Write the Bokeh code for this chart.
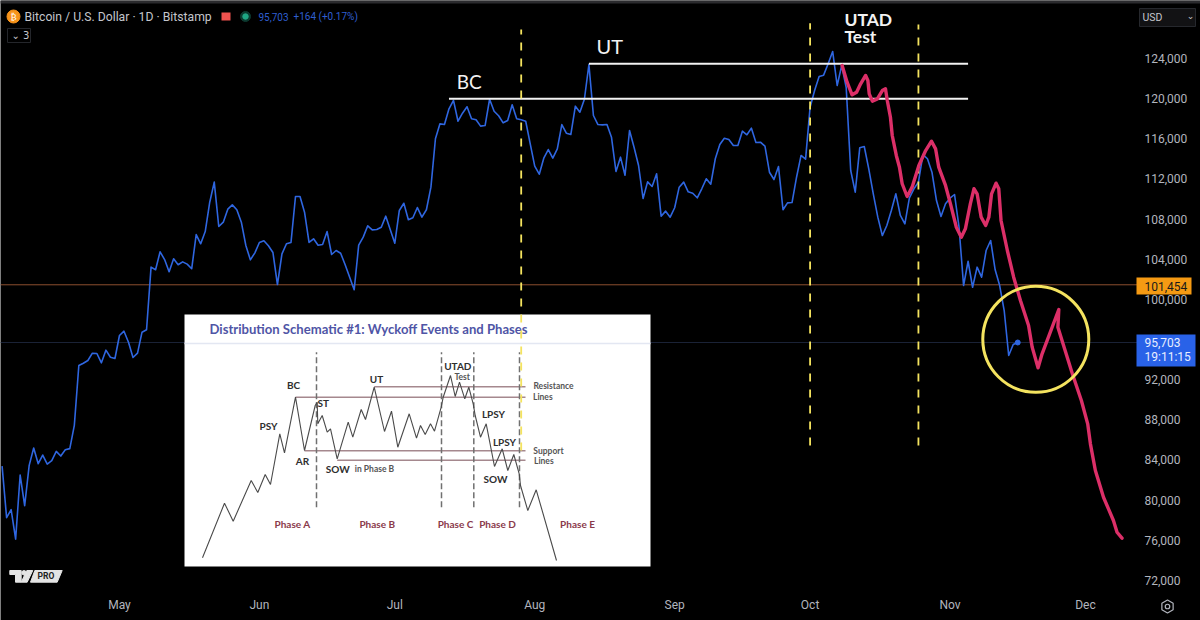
from datetime import datetime, timedelta, timezone

from bokeh.core.properties import value
from bokeh.embed import file_html
from bokeh.models import DatetimeAxis, DatetimeTickFormatter, FixedTicker, LinearAxis, NumeralTickFormatter, Range1d
from bokeh.plotting import figure
from bokeh.resources import INLINE

# daily closes, first one is 5 Apr
first_day = datetime(2025, 4, 5, tzinfo=timezone.utc)
close = [
    83390, 78250, 79050, 76120, 82500, 79450, 83460, 85190, 83630, 84490, 83590, 83930, 84860, 84390, 85010, 85130,
    87450, 93410, 93640, 93910, 94640, 94610, 93680, 94940, 94240, 94110, 96400, 96830, 95730, 94210, 94640, 96730,
    96970, 103210, 102950, 104740, 103970, 102750, 104040, 103450, 103740, 103510, 103050, 106460, 105540, 106760,
    109680, 111680, 107260, 107690, 108990, 109420, 108930, 107690, 105370, 103940, 104640, 105670, 105840, 105340,
    104670, 101480, 104540, 105540, 105670, 110250, 110250, 108690, 105670, 106040, 105400, 105470, 106760, 104470,
    104870, 104600, 103450, 102210, 100960, 105400, 106200, 107330, 106930, 106960, 107190, 108290, 106930, 105600,
    108860, 109580, 107930, 108130, 109150, 108190, 108930, 111180, 116000, 117490, 117420, 118990, 119820, 117750,
    118550, 119190, 117990, 117890, 117260, 117320, 119940, 118750, 118290, 117590, 117820, 119390, 117990, 117890,
    117750, 115500, 113270, 112470, 114070, 114930, 114070, 115000, 117420, 116560, 116430, 119250, 118650, 119940,
    123400, 118320, 117420, 117390, 117420, 116160, 112740, 114170, 112370, 116830, 115160, 113340, 110050, 111710,
    111250, 112510, 108290, 108790, 108190, 109130, 111180, 111680, 110720, 110580, 110120, 111020, 112010, 111480,
    114010, 115430, 116060, 115930, 115330, 115330, 116760, 116400, 117060, 115630, 115660, 115260, 112670, 111940,
    113240, 108930, 109620, 109650, 112170, 114340, 113970, 119150, 120810, 122210, 122340, 123470, 124700, 121310,
    123300, 121110, 112840, 110680, 115100, 115230, 113010, 110520, 108190, 106360, 107360, 108860, 110520, 108360,
    107530, 110120, 111020, 111680, 114430, 114010, 112670, 109850, 108260, 109520, 110080, 110450, 107190, 101380,
    103800, 101210, 103210, 102210, 104870, 105870, 102950, 101380, 98890, 94410, 95500, 95703,
]

# hand drawn projection, days counted from first_day
drawn_day = [
    186.1, 187.2, 188.3, 189.3, 190.2, 191.3, 191.8, 192.1, 192.8, 193.9, 195, 195.7, 196.1, 196.8, 197.2, 198.1,
    198.8, 199.4, 200.5, 201.6, 203.1, 204.6, 205.9, 206.8, 207.5, 209, 210.1, 211.4, 212.5, 213.4, 214.5, 215.3,
    216, 216.9, 217.9, 218.6, 219.2, 220.2, 220.8, 221.3, 222.7, 224.1, 225.6, 227.4, 228.2, 229.5, 230.4, 234.1,
    233.9, 237.1, 239.1, 240.5, 241.1, 242.2, 244, 246.2, 247, 248.1,
]
drawn_price = [
    123300, 121640, 120380, 120640, 121480, 122310, 121810, 120480, 119750, 119980, 120810, 120980, 119820, 118150,
    116330, 114340, 113170, 111520, 110250, 111180, 113340, 114830, 115760, 115000, 113170, 111350, 109520, 107190,
    106200, 107030, 109520, 111020, 110520, 108190, 107360, 108190, 110520, 111580, 111020, 107860, 104870, 102210,
    99890, 97400, 95240, 93180, 94580, 98990, 97230, 92590, 89930, 87600, 85610, 82950, 80290, 77970, 76800, 76210,
]

# 96,000 sits under the last price tag on the chart
price_ticks = [72000, 76000, 80000, 84000, 88000, 92000, 100000, 104000, 108000, 112000, 116000, 120000, 124000]
month_starts = [datetime(2025, m, 1, tzinfo=timezone.utc) for m in range(5, 13)]

last_price = 95703
level_price = 101454
bc_price = 120000
ut_price = 123470

# the pasted Wyckoff schematic, in its own units (0,0 is its bottom left corner)
wyckoff_x = [
    18, 40, 48.7, 66.7, 73.3, 80.7, 86, 95.3, 100, 111, 120, 130.7, 132.7, 133.3, 137.7, 142.7, 146, 152.7, 163.7,
    168.3, 176.7, 181, 189.7, 200, 207, 213.3, 224.7, 232, 236, 240.7, 246, 250, 256.7, 258.7, 266, 270.7, 275,
    280.3, 284.3, 288.7, 290.7, 296, 301.7, 310, 317.7, 323.3, 329.3, 334.7, 336, 343.3, 351.7, 372,
]
wyckoff_y = [
    8.7, 63.3, 45.3, 86, 74, 92, 82, 132.7, 113.7, 169.3, 116, 161, 164.3, 142.7, 151, 134.3, 137.7, 107.7, 144.3,
    129.3, 157, 147, 179.3, 135, 155.3, 119.3, 152.7, 128.3, 141, 132, 142.7, 135.3, 159.3, 169.3, 191, 170, 184.3,
    167.7, 179.3, 162.7, 151, 129.3, 142.7, 100, 117.7, 96, 112, 92.7, 81, 56, 76.7, 6,
]
wyckoff_levels = [179.7, 169.3, 115.7, 106.3]
wyckoff_level_starts = [189.7, 111, 120, 152.7]
wyckoff_phase_bounds = [132, 257, 289.3, 335]

event_text = ["PSY", "BC", "ST", "AR", "UT", "SOW", "UTAD", "LPSY", "LPSY", "SOW"]
event_x = [84, 109, 138.7, 118, 192, 153.3, 273.3, 309, 320, 311]
event_y = [140.3, 182, 163.3, 105.3, 187.7, 97.7, 201, 152.7, 124.7, 87.7]
small_text = ["in Phase B", "Test", "Resistance", "Lines", "Support", "Lines"]
small_x = [190, 277.7, 369, 358.3, 364, 359.3]
small_y = [97.7, 190, 180.3, 169.7, 115.7, 105.3]
phase_text = ["Phase A", "Phase B", "Phase C", "Phase D", "Phase E"]
phase_x = [108, 192.7, 271, 313, 393]


def ms(day):
    return (first_day + timedelta(days=day)).timestamp() * 1000


BG = "#000000"
AXIS_TEXT = "#b2b5be"
BLUE = "#2f66e0"
RED = "#dc2f68"
YELLOW = "#f4e35f"

# the frame fills the whole canvas so the price tags can sit over the axis strip
p = figure(width=1200, height=620, x_axis_location=None, y_axis_location=None,
           x_range=Range1d(ms(-0.354), ms(265.49)), y_range=Range1d(68007, 129778),
           output_backend="svg", toolbar_location=None,
           background_fill_color=BG, border_fill_color=BG,
           min_border_left=0, min_border_top=0, min_border_right=0, min_border_bottom=0)
p.outline_line_color = None
p.grid.visible = False
p.extra_x_ranges = {"inset": Range1d(-184, 1016)}
p.extra_y_ranges = {"inset": Range1d(-54, 566)}
inset = dict(x_range_name="inset", y_range_name="inset")

# fixed_location keeps the axes inside the frame, they take no room of their own
price_axis = LinearAxis(fixed_location=ms(253.08), ticker=FixedTicker(ticks=price_ticks),
                        formatter=NumeralTickFormatter(format="0,0"), major_label_standoff=0)
time_axis = DatetimeAxis(fixed_location=70996,
                         ticker=FixedTicker(ticks=[d.timestamp() * 1000 for d in month_starts]),
                         formatter=DatetimeTickFormatter(months="%b", days="%b", hours="%b", minutes="%b",
                                                         seconds="%b", milliseconds="%b"),
                         major_label_standoff=8)
for ax, side in ((price_axis, "right"), (time_axis, "below")):
    ax.axis_line_color = None
    ax.major_tick_line_color = None
    ax.minor_tick_line_color = None
    ax.major_tick_out = 0
    ax.major_tick_in = 0
    ax.major_label_text_color = AXIS_TEXT
    ax.major_label_text_font = "Roboto"
    ax.major_label_text_font_size = "12px"
    p.add_layout(ax, side)

p.line([ms(-0.354), ms(251.6)], [level_price, level_price], line_color="#8c4f2e", line_width=1)
p.line([ms(-0.354), ms(251.6)], [last_price, last_price], line_color="#1a2236", line_width=1)

# price
p.line([ms(i) for i in range(len(close))], close, line_color=BLUE, line_width=1.6, line_join="round")
p.scatter([ms(len(close) - 1)], [last_price], size=5, color=BLUE)

# resistance lines and labels
p.line([ms(99), ms(214)], [bc_price, bc_price], line_color="#f2f2f2", line_width=2)
p.line([ms(130), ms(214)], [ut_price, ut_price], line_color="#f2f2f2", line_width=2)
p.text([ms(100.7)], [121710], text=["BC"], text_color="#f2f2f2", text_font=value("Lato"),
       text_font_size="19px", text_baseline="middle")
p.text([ms(131.7)], [125200], text=["UT"], text_color="#f2f2f2", text_font=value("Lato"),
       text_font_size="20px", text_baseline="middle")
p.text([ms(186.6), ms(186.6)], [127885, 126190], text=["UTAD", "Test"], text_color="#f2f2f2", text_font=value("Lato"),
       text_font_style="bold", text_font_size="17.5px", text_baseline="middle")

# pasted schematic
p.quad(left=[0], right=[466], bottom=[0], top=[252], color="#ffffff", line_color=None, **inset)
p.line([0, 466], [223, 223], line_color="#e3e7f2", line_width=1.5, **inset)
p.text([25], [238], text=["Distribution Schematic #1: Wyckoff Events and Phases"], text_color="#4f55a6",
       text_font=value("Lato"), text_font_style="bold", text_font_size="13.1px", text_baseline="middle", **inset)
for level, start in zip(wyckoff_levels, wyckoff_level_starts):
    p.line([start, 341], [level, level], line_color="#a5888e", line_width=1.5, **inset)
for bound in wyckoff_phase_bounds:
    p.line([bound, bound], [59.3, 214.3], line_color="#707070", line_width=1.5, line_dash=[6, 3], **inset)
p.line(wyckoff_x, wyckoff_y, line_color="#4a4a4a", line_width=1.1, **inset)
p.text(event_x, event_y, text=event_text, text_color="#2e2e2e", text_font=value("Lato"), text_font_style="bold",
       text_font_size="10px", text_align="center", text_baseline="middle", **inset)
p.text(small_x, small_y, text=small_text, text_color="#555555", text_font=value("Lato"), text_font_style="bold",
       text_font_size="8.5px", text_align="center", text_baseline="middle", **inset)
p.text(phase_x, [42.7] * 5, text=phase_text, text_color="#8a3a4b", text_font=value("Lato"), text_font_style="bold",
       text_font_size="10px", text_align="center", text_baseline="middle", **inset)

# dashed phase markers
for day, low, high in zip([115, 179, 203], [84950, 85440, 85440], [126890, 127520, 127390]):
    p.line([ms(day), ms(day)], [low, high], line_color=YELLOW, line_width=1.8, line_dash=[8, 8])

# projection and target circle
p.line([ms(d) for d in drawn_day], drawn_price, line_color=RED, line_width=3.4, line_join="round", line_cap="round")
p.scatter([ms(229)], [96020], size=106, marker="circle", fill_color=None, line_color=YELLOW, line_width=3)

# window strip and symbol header
p.quad(left=[-184], right=[1016], bottom=[563], top=[566], color="#2b2b2e", line_color=None, **inset)
p.scatter([-171], [550], size=13, color="#f7931a", **inset)
p.text([-171], [550], text=["₿"], text_color="#ffffff", text_font=value("DejaVu Sans"), text_font_size="9px",
       text_align="center", text_baseline="middle", **inset)
p.text([-160], [550], text=["Bitcoin / U.S. Dollar · 1D · Bitstamp"], text_color="#c4c6cc", text_font=value("Roboto"),
       text_font_size="12.2px", text_baseline="middle", **inset)
p.quad(left=[37], right=[46], bottom=[546], top=[554], color="#f0524f", line_color=None, **inset)
p.scatter([61], [550], size=10, color="#0c3a30", **inset)
p.scatter([61], [550], size=5.5, color="#1fa584", **inset)
p.text([74, 109], [550, 550], text=["95,703", "+164 (+0.17%)"], text_color="#2f5fd0", text_font=value("Roboto"),
       text_font_size="10px", text_baseline="middle", **inset)
p.quad(left=[-177], right=[-154], bottom=[524], top=[538], fill_color=BG, line_color="#24262b", **inset)
p.text([-173], [531], text=["⌄ 3"], text_color="#c4c6cc", text_font=value("DejaVu Sans"), text_font_size="10px",
       text_baseline="middle", **inset)

# price tags
p.quad(left=[952], right=[1007], bottom=[272], top=[289], color="#f59a13", line_color=None, **inset)
p.text([960], [280.5], text=["101,454"], text_color="#1a1a1a", text_font=value("Roboto"), text_font_size="12px",
       text_baseline="middle", **inset)
p.quad(left=[952], right=[1011], bottom=[200], top=[232], color="#2962e8", line_color=None, **inset)
p.text([960, 960], [224, 210], text=["95,703", "19:11:15"], text_color="#e8eeff", text_font=value("Roboto"),
       text_font_size="12px", text_baseline="middle", **inset)
p.quad(left=[955], right=[1011], bottom=[540], top=[558], color="#121214", line_color="#26282d", **inset)
p.text([958], [549.5], text=["USD"], text_color="#c4c6cc", text_font=value("Roboto"), text_font_size="10.5px",
       text_baseline="middle", **inset)
p.text([1006], [551], text=["⌄"], text_color="#c4c6cc", text_font=value("DejaVu Sans"), text_font_size="9px",
       text_align="center", text_baseline="middle", **inset)

# settings icon
p.scatter([983], [-40], size=13, marker="hex", angle=0.5236, fill_color=None, line_color=AXIS_TEXT, line_width=1.2, **inset)
p.scatter([983], [-40], size=4.5, marker="circle", fill_color=None, line_color=AXIS_TEXT, line_width=1.2, **inset)

# TradingView badge
p.patch([-174.7, -163.3, -163.3, -169, -169, -174.7], [-4, -4, -15.7, -15.7, -8, -8], color="#e4e4e4", **inset)
p.scatter([-160.5], [-6.3], size=4.5, color="#e4e4e4", **inset)
p.patch([-157.7, -151.7, -157.3, -163.3], [-4, -4, -15.7, -15.7], color="#e4e4e4", **inset)
p.patch([-149.7, -122.3, -127.3, -154], [-4, -4, -15.7, -15.7], color="#e4e4e4", **inset)
p.text([-138.5], [-9.8], text=["PRO"], text_color="#222222", text_font=value("Roboto"), text_font_style="bold",
       text_font_size="8.5px", text_align="center", text_baseline="middle", **inset)

open("out.html", "w").write(file_html(p, INLINE))
